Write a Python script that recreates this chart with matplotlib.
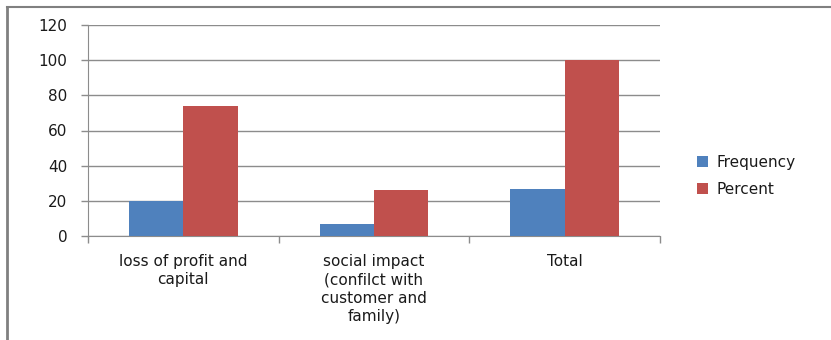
import numpy as np
import matplotlib.pyplot as plt
from matplotlib.lines import Line2D

plt.rcParams['font.family'] = ['DejaVu Sans']

categories = ["loss of profit and\ncapital",
              "social impact\n(confilct with\ncustomer and\nfamily)",
              "Total"]
frequency = [20, 7, 27]
percent = [74.07, 25.93, 100]

blue = "#4F81BD"
red = "#C0504D"
grid_c = "#8C8C8C"

fig = plt.figure(figsize=(8.31, 3.40), dpi=100)
ax = fig.add_axes([88 / 831, 1 - 236 / 340, (660 - 88) / 831, (236 - 25) / 340])

x = np.arange(len(categories))
w = 1 / 3.5
ax.bar(x - w / 2, frequency, w, color=blue, label="Frequency", zorder=3)
ax.bar(x + w / 2, percent, w, color=red, label="Percent", zorder=3)

ax.set_xlim(-0.5, len(categories) - 0.5)
ax.set_ylim(0, 120)
ax.set_yticks(np.arange(0, 121, 20))
ax.yaxis.grid(True, color=grid_c, linewidth=1)
ax.set_axisbelow(True)

# category separators as ticks, labels at the centres
ax.set_xticks(np.arange(-0.5, len(categories), 1))
ax.set_xticklabels([])
ax.set_xticks(x, minor=True)
ax.set_xticklabels(categories, minor=True, fontsize=11, linespacing=1.28, color="#1a1a1a")
ax.tick_params(axis='x', which='minor', length=0, pad=13)
ax.tick_params(axis='x', which='major', length=5, color=grid_c, width=1)
ax.tick_params(axis='y', length=5, color=grid_c, width=1, labelsize=11, pad=10,
               labelcolor="#1a1a1a")

for s in ['top', 'right']:
    ax.spines[s].set_visible(False)
ax.spines['left'].set_color(grid_c)
ax.spines['bottom'].set_color(grid_c)

leg = ax.legend(loc='center left', bbox_to_anchor=(1.04, 0.285), frameon=False,
                fontsize=11, handlelength=0.75, handleheight=0.75, handletextpad=0.55,
                labelspacing=0.8)
for t in leg.get_texts():
    t.set_color("#1a1a1a")

# outer chart frame
fig.add_artist(Line2D([6.5 / 831, 6.5 / 831], [0, 1 - 7 / 340], color="#808080", linewidth=2,
                      transform=fig.transFigure))
fig.add_artist(Line2D([6.5 / 831, 1], [1 - 7 / 340, 1 - 7 / 340], color="#808080", linewidth=1.5,
                      transform=fig.transFigure))

fig.savefig("out.png", dpi=100)
